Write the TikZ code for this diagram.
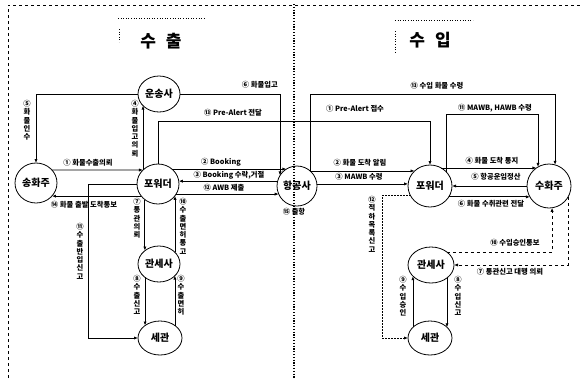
\documentclass[tikz,border=0pt]{standalone}
\usepackage{fontspec}
\setmainfont{Noto Sans CJK KR}
\usetikzlibrary{shapes.geometric,arrows.meta}
\begin{document}
\begin{tikzpicture}[x=1pt,y=-1pt,
  ent/.style={ellipse, draw, line width=0.8pt, inner sep=0pt, outer sep=0pt, font=\bfseries\fontsize{10}{10}\selectfont},
  lbl/.style={font=\bfseries\fontsize{7.3}{8}\selectfont, inner sep=0pt},
  vlb/.style={font=\bfseries\fontsize{7.3}{8.3}\selectfont, inner sep=0pt, align=center},
  ttl/.style={font=\bfseries\fontsize{17}{17}\selectfont, inner sep=0pt},
  arr/.style={-{Latex[length=4pt,width=3.2pt]}, line width=0.8pt},
  deco/.style={line width=0.6pt, dotted}]
\useasboundingbox (0,0) rectangle (580,378);
% frame
\draw[dashed, line width=0.8pt] (8,378) -- (8,5) -- (580,5);
% titles
\node[ttl] (t1) at (161,41) {수\hspace{10pt}출};
\node[ttl] (t2) at (430,40) {수\hspace{10pt}입};
\draw[deco] (118,18) -- (204,18);
\draw[deco] (119,29) -- (119,42);
\draw[deco] (395,20) -- (473,20);
\draw[deco] (395,31) -- (395,54);
% nodes
\node[ent, minimum width=42pt, minimum height=36pt] (car) at (159,94) {\makebox[0pt]{운송사}};
\node[ent, minimum width=42pt, minimum height=40pt] (shp) at (36,183) {\makebox[0pt]{송화주}};
\node[ent, minimum width=42pt, minimum height=40pt] (efw) at (158,184) {\makebox[0pt]{포워더}};
\node[ent, minimum width=40pt, minimum height=40pt] (air) at (297,186) {\makebox[0pt]{항공사}};
\node[ent, minimum width=42pt, minimum height=36pt] (ebr) at (159,264) {\makebox[0pt]{관세사}};
\node[ent, minimum width=44pt, minimum height=34pt] (ecu) at (160,338) {\makebox[0pt]{세관}};
\node[ent, minimum width=44pt, minimum height=42pt] (ifw) at (430,186) {\makebox[0pt]{포워더}};
\node[ent, minimum width=44pt, minimum height=44pt] (cns) at (549,186) {\makebox[0pt]{수화주}};
\node[ent, minimum width=46pt, minimum height=36pt] (ibr) at (431,265) {\makebox[0pt]{관세사}};
\node[ent, minimum width=44pt, minimum height=34pt] (icu) at (430,338) {\makebox[0pt]{세관}};
\coordinate (k11) at (88,338);
\coordinate (k12) at (382,338);
% export connectors
\draw[arr] (shp.39) -- (efw.137);
\draw[arr] (efw.137) -- (efw.137 |- car.216);
\draw[arr] (car.west) -| (shp.north);
\draw[arr] (car.east) -| (air.148);
\draw[arr] (efw.north) -- ++(0,-43) -| (ifw.north);
\draw[arr] (efw.47) -- (efw.47 -| air.122);
\draw[arr] (air.166) -- (air.166 -| efw.8);
\draw[arr] (efw.-29) -- (efw.-29 -| air.204);
\draw[arr] (efw.216) -- (efw.216 -| shp.-39);
\draw[arr] (efw.west) -| (k11) -- (ecu.west);
\draw[arr] (efw.230) -- (efw.230 |- ebr.136);
\draw[arr] (ebr.36) -- (ebr.36 |- efw.-35);
\draw[arr] (ebr.224) -- (ebr.224 |- ecu.140);
\draw[arr] (ecu.40) -- (ecu.40 |- ebr.-36);
% import connectors
\draw[arr] (air.49) -- (air.49 -| ifw.136);
\draw[arr] (air.6) -- (air.6 -| ifw.175);
\draw[arr] (air.49) -- ++(0,-77) -| (cns.74);
\draw[arr] (ifw.58) -- (ifw.58 -| cns.125);
\draw[arr] (cns.west) -- (ifw.east);
\draw[arr] (ifw.-30) -- (ifw.-30 -| cns.210);
\draw[arr] (ifw.42) -- ++(0,-57) -| (cns.120);
\draw[arr, dashed] (cns.-30) |- (ibr.east);
\draw[arr, dashed] (ibr.39) -| (cns.-82);
\draw[arr] (ibr.-39) -- (ibr.-39 |- icu.32);
\draw[arr] (icu.148) -- (icu.148 |- ibr.212);
\draw[arr, dash pattern=on 1.5pt off 1.5pt] (ifw.207) -| (k12) -- (icu.west);
% export labels
\node[lbl] (l1) at (88,163) {① 화물수출의뢰};
\node[lbl] (l14) at (84,205) {⑭ 화물 출발 도착통보};
\node[lbl] (l2) at (221,162) {② Booking};
\node[lbl] (l3) at (229,175.5) {③ Booking 수락,거절};
\node[lbl] (l12) at (224,188) {⑫ AWB 제출};
\node[lbl] (l15) at (294,212) {⑮ 출항};
\node[lbl, anchor=east] (l6) at (278,85) {⑥ 화물입고};
\node[lbl] (l13) at (233,113) {⑬ Pre-Alert 전달};
\node[vlb, anchor=north] (l5) at (27,100) {⑤\\화\\물\\인\\수};
\node[vlb, anchor=north] (l4) at (135,100) {④\\화\\물\\입\\고\\의\\뢰};
\node[vlb, anchor=north] (l11) at (80,223) {⑪\\수\\출\\반\\입\\신\\고};
\node[vlb, anchor=north] (l7) at (137,198) {⑦\\통\\관\\의\\뢰};
\node[vlb, anchor=north] (l10) at (183,198) {⑩\\수\\출\\면\\허\\통\\고};
\node[vlb, anchor=north] (l8) at (137,275) {⑧\\수\\출\\신\\고};
\node[vlb, anchor=north] (l9) at (181,275) {⑨\\수\\출\\면\\허};
% import labels
\node[lbl] (i1) at (355,109) {① Pre-Alert 접수};
\node[lbl] (i13) at (437,86) {⑬ 수입 화물 수령};
\node[lbl] (i11) at (495,108) {⑪ MAWB, HAWB 수령};
\node[lbl] (i2) at (360,163) {② 화물 도착 알림};
\node[lbl] (i3) at (359,177) {③ MAWB 수령};
\node[lbl] (i4) at (492,161) {④ 화물 도착 통지};
\node[lbl] (i5) at (496,177) {⑤ 항공운임정산};
\node[lbl] (i6) at (491,204) {⑥ 화물 수취관련 전달};
\node[lbl] (i7) at (510,272) {⑦ 통관신고 대행 의뢰};
\node[lbl] (i10) at (515,243) {⑩ 수입승인통보};
\node[vlb, anchor=north] (i12) at (372,196) {⑫\\적\\하\\목\\록\\신\\고};
\node[vlb, anchor=north] (i9) at (403,276) {⑨\\수\\입\\승\\인};
\node[vlb, anchor=north] (i8) at (458,276) {⑧\\수\\입\\신\\고};
% central divider
\draw[line width=1.2pt, dash pattern=on 1.2pt off 1.6pt] (294,4) -- (294,378);
\end{tikzpicture}
\end{document}
